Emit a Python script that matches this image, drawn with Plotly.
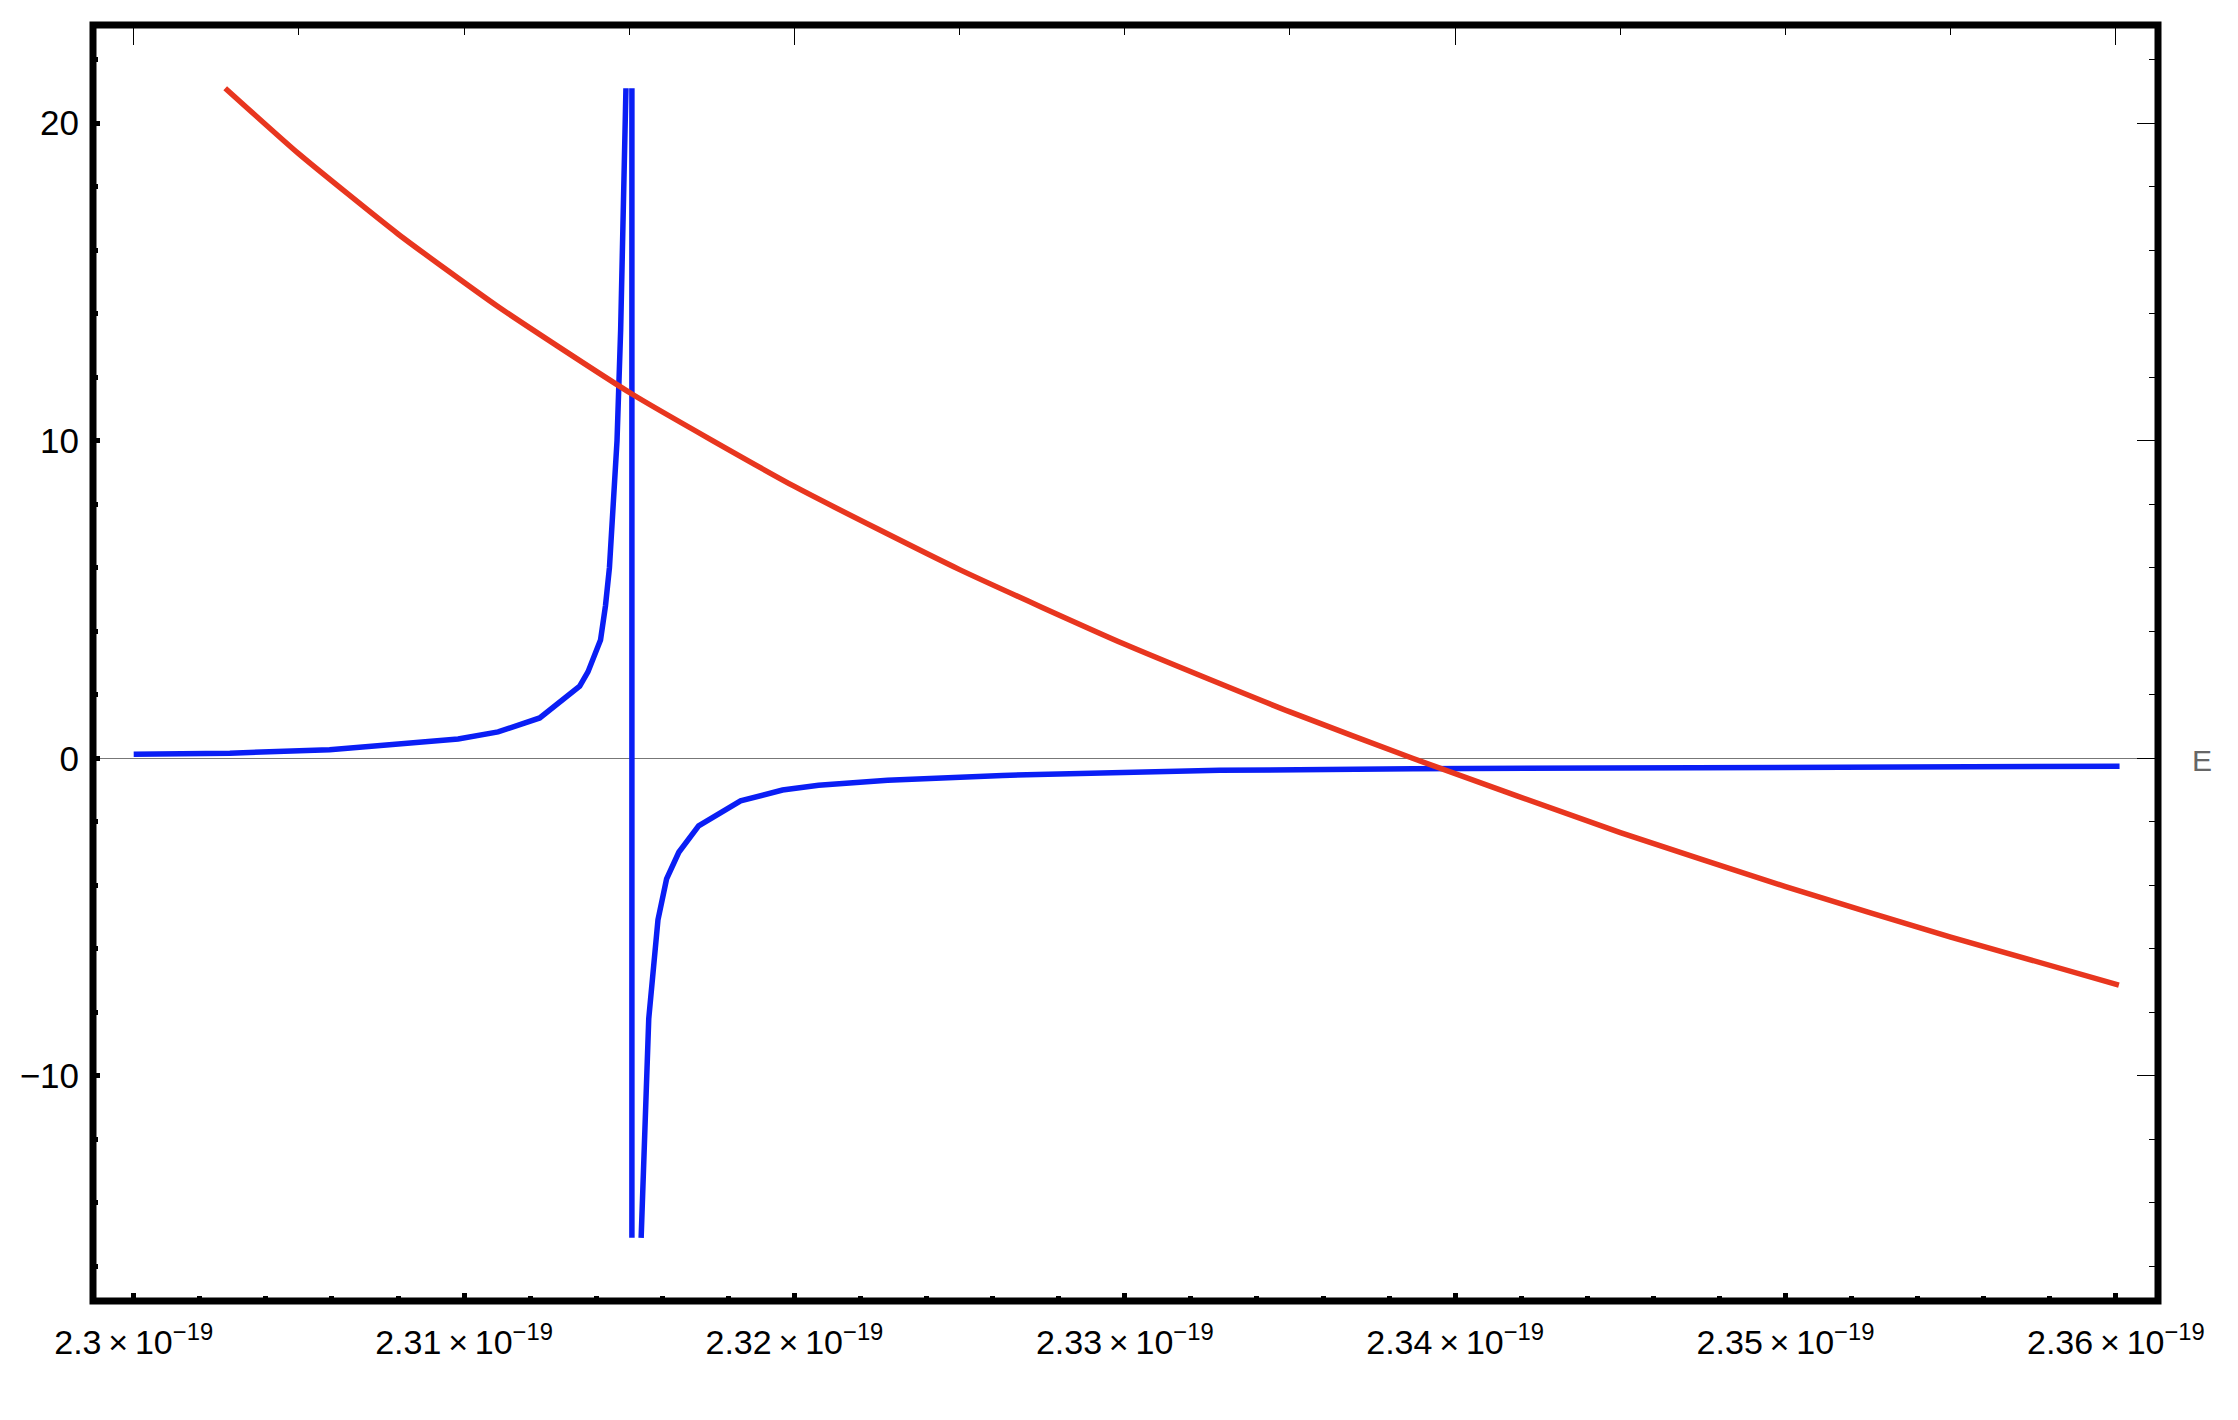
import plotly.graph_objects as go

SCALE = 1e-19  # x values are stored in units of 1e-19

# ---- data (x in units of 1e-19) ----
blue_E = [2.30000, 2.30291, 2.30593, 2.30856, 2.30982, 2.31103, 2.31229, 2.31350,
          2.31375, 2.31413, 2.31428, 2.31440, 2.31452, 2.31463, 2.31474, 2.31483,
          2.31490, None, 2.31508, 2.31508, None,
          2.31536, 2.31546, 2.31559, 2.31587, 2.31613, 2.31650, 2.31710, 2.31837,
          2.31964, 2.32073, 2.32282, 2.32630, 2.32975, 2.33287, 2.33871, 2.34740,
          2.36011]
blue_V = [0.13, 0.16, 0.27, 0.48, 0.61, 0.83, 1.27, 2.27,
          2.72, 3.72, 4.8, 6.0, 7.8, 10.0, 13.5, 17.5,
          21.1, None, 21.1, -15.1, None,
          -15.1, -12.1, -8.2, -5.08, -3.8, -2.96, -2.13, -1.34,
          -1.0, -0.85, -0.69, -0.54, -0.44, -0.38, -0.33, -0.29,
          -0.25]

red_E = [2.30277, 2.30500, 2.30800, 2.31100, 2.31508, 2.32000, 2.32500, 2.33000,
         2.33500, 2.33871, 2.34500, 2.35000, 2.35500, 2.36009]
red_V = [21.1, 19.03, 16.51, 14.24, 11.47, 8.56, 5.94, 3.59,
         1.46, 0.00, -2.34, -4.04, -5.63, -7.14]

# ---- ticks ----
x_major = [2.30, 2.31, 2.32, 2.33, 2.34, 2.35, 2.36]
x_major_text = ["2.3", "2.31", "2.32", "2.33", "2.34", "2.35", "2.36"]
x_minor = [2.302, 2.304, 2.306, 2.308, 2.312, 2.314, 2.316, 2.318,
           2.322, 2.324, 2.326, 2.328, 2.332, 2.334, 2.336, 2.338,
           2.342, 2.344, 2.346, 2.348, 2.352, 2.354, 2.356, 2.358]
top_major = [2.30, 2.32, 2.34, 2.36]
top_minor = [2.305, 2.31, 2.315, 2.325, 2.33, 2.335, 2.345, 2.35, 2.355]
y_major = [-10, 0, 10, 20]
y_major_text = ["\u221210", "0", "10", "20"]
y_minor = [-16, -14, -12, -8, -6, -4, -2, 2, 4, 6, 8, 12, 14, 16, 18, 22]

x_range = [2.298768, 2.361274]
y_range = [-17.09, 23.09]

BLUE = "#0a1ef5"
RED = "#e8361f"
FONT = "Liberation Sans, Arial, Helvetica, sans-serif"

def sx(vals):
    return [None if v is None else v * SCALE for v in vals]

fig = go.Figure()
fig.add_trace(go.Scatter(x=sx(blue_E), y=blue_V, mode="lines",
                         line=dict(color=BLUE, width=5.5), connectgaps=False,
                         hoverinfo="skip", showlegend=False))
fig.add_trace(go.Scatter(x=sx(red_E), y=red_V, mode="lines",
                         line=dict(color=RED, width=5.5, shape="spline", smoothing=0.5),
                         hoverinfo="skip", showlegend=False))
# dummy traces to activate the mirror axes
fig.add_trace(go.Scatter(x=[None], y=[None], xaxis="x2", yaxis="y",
                         showlegend=False, hoverinfo="skip"))
fig.add_trace(go.Scatter(x=[None], y=[None], xaxis="x", yaxis="y2",
                         showlegend=False, hoverinfo="skip"))

xtext = [t + "\u2009\u00d7\u200910<sup>\u221219</sup>" for t in x_major_text]

fig.update_layout(
    width=2230, height=1412,
    margin=dict(l=85, r=80, t=17, b=119, autoexpand=False),
    paper_bgcolor="white", plot_bgcolor="white",
    showlegend=False,
    font=dict(family=FONT, color="black"),
    xaxis=dict(
        range=sx(x_range), showgrid=False, zeroline=False, showline=False,
        tickmode="array", tickvals=sx(x_major), ticktext=xtext,
        ticks="inside", ticklen=8, tickwidth=5, tickcolor="black",
        tickfont=dict(size=34, family=FONT, color="black"),
        ticklabelstandoff=18,
        minor=dict(tickmode="array", tickvals=sx(x_minor), ticks="inside",
                   ticklen=5, tickwidth=5, tickcolor="black", showgrid=False),
    ),
    xaxis2=dict(
        range=sx(x_range), overlaying="x", side="top", anchor="y",
        showgrid=False, zeroline=False, showline=False, showticklabels=False,
        tickmode="array", tickvals=sx(top_major),
        ticks="inside", ticklen=20, tickwidth=1.3, tickcolor="black",
        minor=dict(tickmode="array", tickvals=sx(top_minor), ticks="inside",
                   ticklen=10, tickwidth=1.3, tickcolor="black", showgrid=False),
    ),
    yaxis=dict(
        range=y_range, showgrid=False, showline=False,
        zeroline=True, zerolinecolor="#777777", zerolinewidth=1.3,
        tickmode="array", tickvals=y_major, ticktext=y_major_text,
        ticks="inside", ticklen=7, tickwidth=5, tickcolor="black",
        tickfont=dict(size=35, family=FONT, color="black"),
        ticklabelstandoff=13,
        minor=dict(tickmode="array", tickvals=y_minor, ticks="inside",
                   ticklen=5, tickwidth=5, tickcolor="black", showgrid=False),
    ),
    yaxis2=dict(
        range=y_range, overlaying="y", side="right", anchor="x",
        showgrid=False, zeroline=False, showline=False, showticklabels=False,
        tickmode="array", tickvals=y_major,
        ticks="inside", ticklen=21, tickwidth=1.3, tickcolor="black",
        minor=dict(tickmode="array", tickvals=y_minor, ticks="inside",
                   ticklen=9.5, tickwidth=1.3, tickcolor="black", showgrid=False),
    ),
    shapes=[dict(type="rect", xref="paper", yref="paper", x0=0, x1=1, y0=0, y1=1,
                 line=dict(color="black", width=7), fillcolor="rgba(0,0,0,0)",
                 layer="above")],
    annotations=[dict(text="E", xref="paper", x=1, xanchor="left", xshift=32,
                      yref="y", y=0, yanchor="middle", yshift=-2, showarrow=False,
                      font=dict(size=30, family=FONT, color="#666666"))],
)

fig.write_html("out.html")
